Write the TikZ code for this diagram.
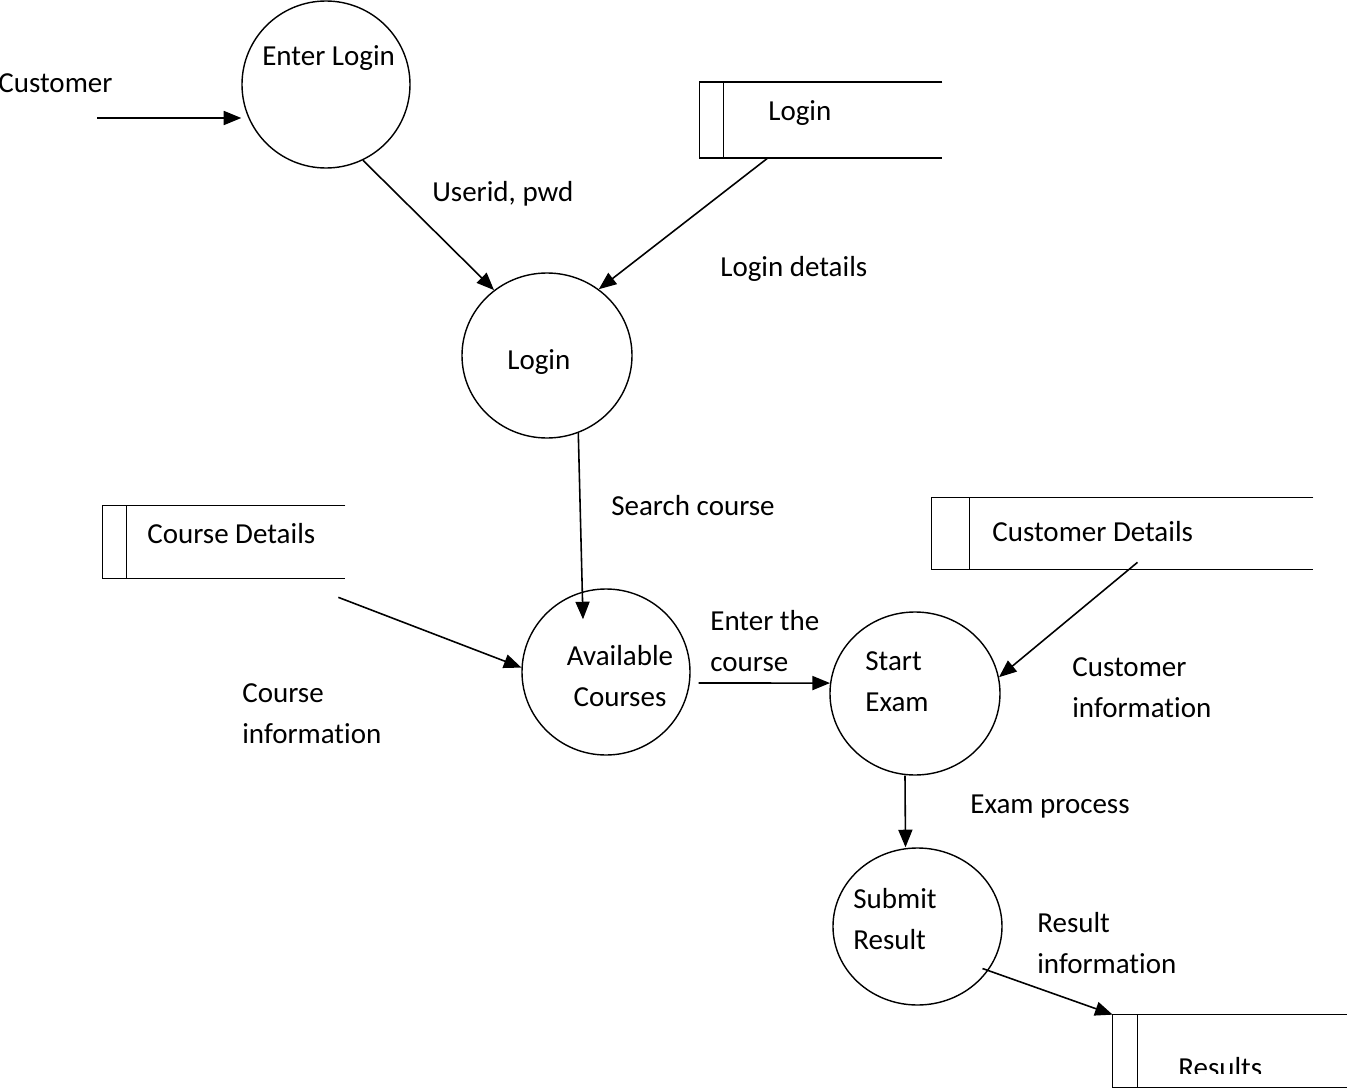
\documentclass[tikz,border=0pt]{standalone}
\usepackage{fontspec}
\setmainfont{Carlito}[Ligatures=NoCommon]
\usetikzlibrary{shapes.geometric,arrows.meta,calc}

\tikzset{
  proc/.style={draw, ellipse, line width=0.8pt, inner sep=0pt},
  store/.style={draw=none, inner sep=0pt},
  lbl/.style={anchor=base west, inner sep=0pt, align=left, font=\fontsize{16.5}{23.3}\selectfont},
  flow/.style={-{Triangle[length=10pt,width=8pt]}, line width=0.9pt},
}

\begin{document}
\begin{tikzpicture}[x=0.02cm, y=-0.02cm]
    \useasboundingbox (0,0) rectangle (1347,1092);

    % Processes
    \foreach \nm/\cx/\cy/\w/\h in {
        enter/326/84.5/168/167,
        login/547/355.5/170/165,
        avail/606/672/168/166,
        startx/915/693.5/170/163,
        submit/917.5/926.5/169/157
    } {
        \node[proc, minimum width=\w*0.02cm, minimum height=\h*0.02cm] (\nm) at (\cx,\cy) {};
    }

    % Data stores
    \foreach \nm/\cx/\cy/\w/\h/\b in {
        lstore/821/120/242/75/24,
        cstore/224/542/242/72/24,
        custstore/1122.5/533.5/381/71/38,
        rstore/1230/1051/234/72/25
    } {
        \node[store, minimum width=\w*0.02cm, minimum height=\h*0.02cm] (\nm) at (\cx,\cy) {};
        \draw[line width=0.9pt] (\nm.north east) -- (\nm.north west) -- (\nm.south west) -- (\nm.south east);
        \draw[line width=0.9pt] ($(\nm.north west)+(\b,0)$) -- ($(\nm.south west)+(\b,0)$);
    }

    % Texts (two-line labels sit on their last baseline)
    \node[lbl] (t-cust) at (-2,92) {Customer};
    \node[lbl] (t-enter) at (262,65) {Enter Login};
    \node[lbl] (t-lstore) at (768,120) {Login};
    \node[lbl] (t-login) at (507,369) {Login};
    \node[lbl] (t-cstore) at (147,543) {Course Details};
    \node[lbl] (t-custstore) at (992,541) {Customer Details};
    \node[lbl, align=center, anchor=base] (t-avail) at (620,706) {Available\\Courses};
    \node[lbl] (t-startx) at (865,711) {Start\\Exam};
    \node[lbl] (t-submit) at (853,949) {Submit\\Result};
    \begin{scope}
        \clip (1100,1000) rectangle (1347,1073);
        \node[lbl] (t-rstore) at (1178,1077) {Results};
    \end{scope}

    % Flow labels
    \node[lbl] (f-userid) at (432,201) {Userid, pwd};
    \node[lbl] (f-logdet) at (720,276) {Login details};
    \node[lbl] (f-search) at (611,515) {Search course};
    \node[lbl] (f-courseinfo) at (242,743) {Course\\information};
    \node[lbl] (f-enter) at (710,671) {Enter the\\course};
    \node[lbl] (f-custinfo) at (1072,717) {Customer\\information};
    \node[lbl] (f-exam) at (970,813) {Exam process};
    \node[lbl] (f-result) at (1037,973) {Result\\information};

    % Flows
    \coordinate (src) at (97,118);
    \draw[flow] (src) -- (src -| enter.west);
    \draw[flow] (enter.-64) -- (login.129);
    \draw[flow] ($(lstore.south)+(-53,0)$) -- (login.52);
    \draw[flow] (login.-68) -- ($(avail.north)+(-23,31)$);
    \draw[flow] ($(cstore.south east)+(-7,19)$) -- (avail.177);
    \draw[flow] ($(avail.east)+(8,11)$) -- (startx.173);
    \draw[flow] ($(custstore.south)+(15,-7)$) -- (startx.11);
    \draw[flow] ($(startx.south)+(-10,0)$) -- ($(submit.north)+(-12,0)$);
    \draw[flow] ($(submit.center)+(65,42)$) -- (rstore.north west);
\end{tikzpicture}
\end{document}
